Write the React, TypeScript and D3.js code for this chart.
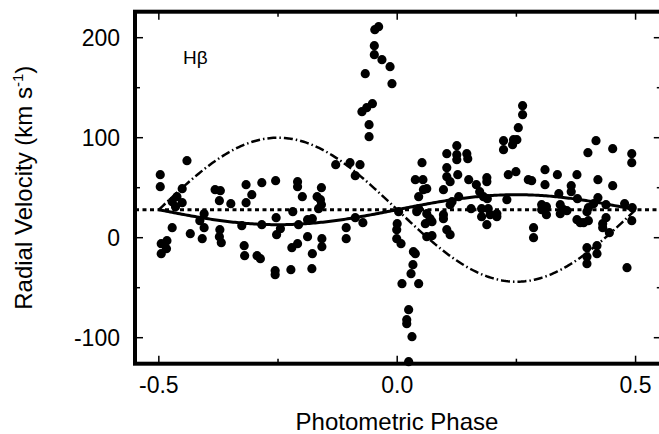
import React from 'react';
import * as d3 from 'd3';

// observed H-beta radial velocities: [photometric phase, km/s]
const obsEarly: [number, number][] = [
  [-0.441, 77], [-0.497, 63], [-0.497, 51], [-0.451, 49], [-0.462, 41], [-0.472, 36], [-0.451, 35],
  [-0.465, 31], [-0.382, 48], [-0.371, 47], [-0.373, 37], [-0.349, 34], [-0.317, 53], [-0.305, 43],
  [-0.317, 35], [-0.284, 55], [-0.405, 24], [-0.414, 17], [-0.405, 10], [-0.409, -1], [-0.472, 10],
  [-0.434, 4], [-0.483, -3], [-0.495, -6], [-0.484, -11], [-0.495, -16], [-0.372, 8], [-0.373, 1],
  [-0.369, -5], [-0.326, 12], [-0.321, -8], [-0.320, -18], [-0.294, -18], [-0.287, -21], [-0.284, 13],
];

const obsQuad: [number, number][] = [
  [-0.255, 57], [-0.254, 20], [-0.245, 9], [-0.253, 3], [-0.256, -33], [-0.256, -37], [-0.209, 56],
  [-0.209, 51], [-0.199, 41], [-0.159, 50], [-0.168, 41], [-0.161, 38], [-0.159, 33], [-0.165, 29],
  [-0.219, 26], [-0.188, 18], [-0.178, 19], [-0.207, 13], [-0.188, 1], [-0.158, -1], [-0.158, -9],
  [-0.209, -6], [-0.221, -10], [-0.178, -16], [-0.223, -32], [-0.179, -31], [-0.129, 73], [-0.099, 75],
  [-0.078, 73], [-0.088, 62], [-0.088, 20], [-0.072, 15], [-0.107, 10], [-0.107, -1],
];

const obsEclipseHigh: [number, number][] = [
  [-0.039, 211], [-0.047, 208], [-0.048, 192], [-0.048, 183], [-0.032, 178], [-0.015, 171],
  [-0.067, 164], [-0.011, 154], [-0.052, 134], [-0.064, 130], [-0.074, 126], [-0.059, 113], [-0.059, 101],
];

const obsEclipseLow: [number, number][] = [
  [0.003, 26], [0.0, 14], [-0.001, 8], [-0.001, -1], [0.008, -6], [0.010, -46], [0.045, -46],
  [0.029, -36], [0.024, -72], [0.020, -82], [0.020, -86], [0.031, -99], [0.024, -124], [0.034, -14],
  [0.038, -16], [0.033, -27],
];

const obsLate: [number, number][] = [
  [0.263, 132], [0.263, 123], [0.254, 110], [0.223, 97], [0.244, 98], [0.251, 98], [0.242, 93],
  [0.223, 88], [0.125, 92], [0.104, 84], [0.125, 83], [0.125, 78], [0.146, 84], [0.148, 79],
  [0.052, 75], [0.104, 70], [0.127, 63], [0.104, 61], [0.111, 56], [0.097, 48], [0.038, 58],
  [0.054, 58], [0.062, 49], [0.055, 48], [0.045, 41], [0.233, 63], [0.249, 66], [0.188, 60],
  [0.188, 56], [0.150, 58], [0.166, 53], [0.173, 46], [0.181, 41], [0.189, 39], [0.230, 38],
  [0.129, 41], [0.115, 36], [0.111, 33], [0.155, 29], [0.177, 29], [0.191, 29], [0.177, 21],
  [0.195, 23], [0.209, 24], [0.209, 21], [0.188, 13], [0.097, 23], [0.097, 19], [0.104, 8],
  [0.111, 3], [0.062, 24], [0.069, 19], [0.059, 14], [0.073, 16], [0.062, 1], [0.073, 2],
  [0.045, 29], [0.041, 26],
];

const obsEnd: [number, number][] = [
  [0.417, 97], [0.400, 85], [0.452, 89], [0.492, 84], [0.492, 75], [0.310, 68], [0.336, 63],
  [0.377, 63], [0.275, 58], [0.282, 57], [0.310, 53], [0.421, 58], [0.452, 52], [0.365, 52],
  [0.365, 46], [0.339, 44], [0.378, 39], [0.421, 40], [0.412, 34], [0.401, 30], [0.438, 33],
  [0.477, 34], [0.493, 30], [0.303, 33], [0.313, 31], [0.303, 28], [0.313, 23], [0.342, 33],
  [0.349, 28], [0.342, 24], [0.356, 27], [0.377, 18], [0.384, 15], [0.391, 15], [0.401, 17],
  [0.398, 26], [0.438, 20], [0.431, 14], [0.431, 10], [0.445, 5], [0.492, 17], [0.286, 10],
  [0.286, 0], [0.398, -10], [0.398, -19], [0.398, -26], [0.419, -8], [0.419, -16], [0.482, -30],
];

// fitted orbits: systemic velocity and semi-amplitudes (solid, dash-dot)
const gamma = 28;
const fitAmplitudes = [15, -72];

const xMajor = [-0.5, 0, 0.5];
const xMinor = [-0.25, 0.25];
const xLabels = ['-0.5', '0.0', '0.5'];
const yMajor = [-100, 0, 100, 200];
const yMinor = [-50, 50, 150];

const W = 659;
const H = 434;
const font = '"Liberation Sans", Arial, Helvetica, sans-serif';

export default function App() {
  const x = d3.scaleLinear().domain([-0.55, 0.555]).range([135, 661.8]);
  const y = d3.scaleLinear().domain([-126, 226]).range([363.7, 11.7]);
  const [x0, x1] = x.range();
  const [y0, y1] = y.range();

  const points = [...obsEarly, ...obsQuad, ...obsEclipseHigh, ...obsEclipseLow, ...obsLate, ...obsEnd];

  const phases = d3.range(-0.5, 0.5001, 0.004);
  const line = d3.line<[number, number]>().x(d => x(d[0])).y(d => y(d[1]));
  const curve = (k: number) =>
    line(phases.map(p => [p, gamma + k * Math.sin(2 * Math.PI * p)] as [number, number])) || '';

  const majorLen = 8;
  const minorLen = 5;

  return (
    <svg width={W} height={H} style={{ position: 'absolute', left: 0, top: 0, background: '#fff' }}>
      {/* ticks */}
      <g stroke="#000" strokeWidth={1.5}>
        {xMajor.map(v => (
          <g key={'xm' + v}>
            <line x1={x(v)} x2={x(v)} y1={y0} y2={y0 - majorLen} />
            <line x1={x(v)} x2={x(v)} y1={y1} y2={y1 + majorLen} />
          </g>
        ))}
        {xMinor.map(v => (
          <g key={'xn' + v}>
            <line x1={x(v)} x2={x(v)} y1={y0} y2={y0 - minorLen} />
            <line x1={x(v)} x2={x(v)} y1={y1} y2={y1 + minorLen} />
          </g>
        ))}
        {yMajor.map(v => (
          <g key={'ym' + v}>
            <line x1={x0} x2={x0 + majorLen} y1={y(v)} y2={y(v)} />
            <line x1={x1} x2={x1 - majorLen} y1={y(v)} y2={y(v)} />
          </g>
        ))}
        {yMinor.map(v => (
          <g key={'yn' + v}>
            <line x1={x0} x2={x0 + minorLen} y1={y(v)} y2={y(v)} />
            <line x1={x1} x2={x1 - minorLen} y1={y(v)} y2={y(v)} />
          </g>
        ))}
      </g>

      {/* systemic velocity */}
      <line x1={x0} x2={x1} y1={y(gamma)} y2={y(gamma)} stroke="#000" strokeWidth={3} strokeDasharray="4,3.5" />

      {/* fitted curves */}
      <path d={curve(fitAmplitudes[0])} fill="none" stroke="#000" strokeWidth={3} />
      <path d={curve(fitAmplitudes[1])} fill="none" stroke="#000" strokeWidth={2.5} strokeDasharray="9,3,1.5,3" />

      {/* observations */}
      <g fill="#000">
        {points.map((d, i) => (
          <circle key={i} cx={x(d[0])} cy={y(d[1])} r={4.6} />
        ))}
      </g>

      {/* frame */}
      <rect x={x0} y={y1} width={x1 - x0} height={y0 - y1} fill="none" stroke="#000" strokeWidth={4} />

      {/* tick labels */}
      <g fontFamily={font} fontSize={23} fill="#000">
        {yMajor.map(v => (
          <text key={'yl' + v} x={120} y={y(v)} dy="0.35em" textAnchor="end">{v}</text>
        ))}
        {xMajor.map((v, i) => (
          <text key={'xl' + v} x={x(v)} y={393} textAnchor="middle">{xLabels[i]}</text>
        ))}
      </g>

      <text x={183} y={64} fontFamily={font} fontSize={19}>Hβ</text>

      <text x={(x0 + 659) / 2} y={430} fontFamily={font} fontSize={24} textAnchor="middle">Photometric Phase</text>
      <text transform={`translate(32,${(y0 + y1) / 2}) rotate(-90)`} fontFamily={font} fontSize={24} textAnchor="middle">
        Radial Velocity (km s<tspan dy={-9} fontSize={15}>-1</tspan><tspan dy={9}>)</tspan>
      </text>
    </svg>
  );
}
